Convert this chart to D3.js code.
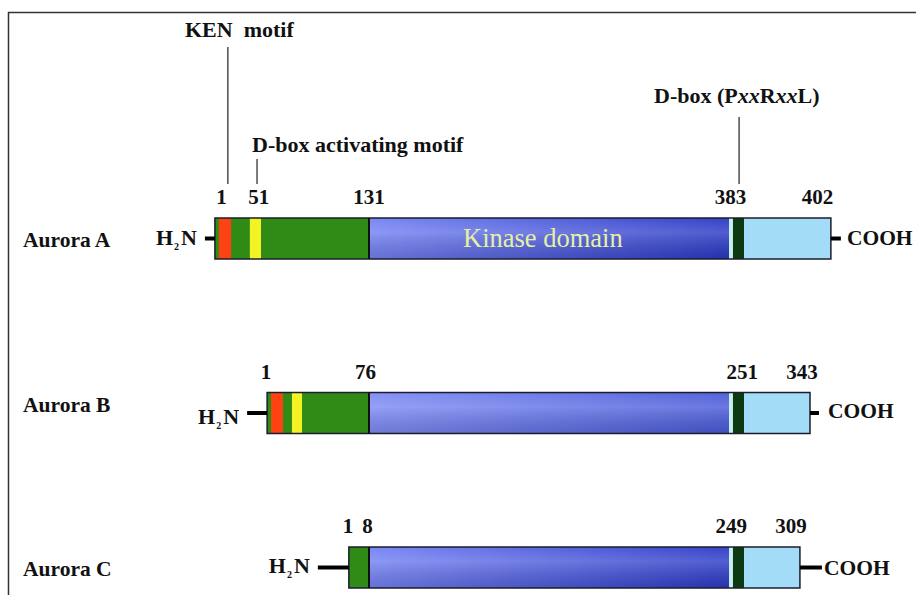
<!DOCTYPE html>
<html>
<head>
<meta charset="utf-8">
<script src="https://cdn.jsdelivr.net/npm/d3@7"></script>
<style>
  html, body { margin: 0; padding: 0; background: #fff; }
  svg { display: block; }
  text { font-family: "Liberation Serif", "Times New Roman", serif; }
</style>
</head>
<body>
<svg id="chart" width="916" height="595"></svg>
<script>
// ---------------- DATA ----------------
// proteins (rows)
const proteins = ["Aurora A", "Aurora B", "Aurora C"];
// schematic positions: kinase domain spans 0..100 units
const barStart = [-42.8, -28.3, -5.6];
const barEnd   = [128.3, 122.5, 119.7];
const kinaseDomain = [0, 100];
const dboxStrip = [100, 101.1];
const dboxMotif = [101.1, 104.2];
const kenMotif = [[-41.7, -38.3], [-27.2, -23.9], null];
const dboxActMotif = [[-33.1, -30.0], [-21.4, -18.6], null];
// residue number labels and their schematic positions
const residueLabels = [["1", "51", "131", "383", "402"], ["1", "76", "251", "343"], ["1", "8", "249", "309"]];
const residuePos = [[-41, -30.6, 0, 100.4, 124.6], [-28.6, -1, 103.7, 120.3], [-5.8, -0.4, 100.6, 117.2]];
// annotations (on Aurora A)
const annotations = [
  { label: "KEN  motif", at: -39.2 },
  { label: "D-box activating motif", at: -31.1 },
  { label: "D-box (PxxRxxL)", at: 102.8 }
];
const domainLabel = "Kinase domain";

// ---------------- LAYOUT / STYLE ----------------
const layout = {
  rowCenters: [238.5, 413, 567.5],
  barH: 41,
  rowLabelX: 23,
  rowLabelDy: [8.5, -1, 8.5],
  nTail: [10, 20, 31],
  cTail: [10, 9, 22],
  h2nDy: [6.5, 11, 5.5],
  coohDy: [6.5, 5, 7.5],
  coohGap: [6, 9, 2],
  numDy: -14,
  annot: [
    { textX: 185, textY: 37, lineTop: 47 },
    { textX: 252, textY: 152, lineTop: 159 },
    { textX: 654, textY: 103, lineTop: 117 }
  ]
};
const colors = {
  green: "#2f8a16", red: "#ff4214", yellow: "#f2f224",
  strip: "#c8eef0", dgreen: "#0b3a12", lblue: "#a2dcf6",
  outline: "#1c1c2c"
};

const svg = d3.select("#chart");
const x = d3.scaleLinear().domain(kinaseDomain).range([369, 729]);
const y = d3.scaleOrdinal().domain(proteins).range(layout.rowCenters);

// gradients for kinase domain
const defs = svg.append("defs");
const kinaseGrads = [["#7482f2", "#2a38c4"], ["#7e8cf4", "#4a5ad8"], ["#7482f2", "#2c3ac6"]];
kinaseGrads.forEach((c, i) => {
  const g = defs.append("linearGradient").attr("id", "kg" + i).attr("x1", 0).attr("x2", 1).attr("y1", 0).attr("y2", 0);
  g.append("stop").attr("offset", "0%").attr("stop-color", c[0]);
  g.append("stop").attr("offset", "100%").attr("stop-color", c[1]);
});
const vg = defs.append("linearGradient").attr("id", "vshade").attr("x1", 0).attr("x2", 0).attr("y1", 0).attr("y2", 1);
vg.append("stop").attr("offset", "0%").attr("stop-color", "#fff").attr("stop-opacity", 0.05);
vg.append("stop").attr("offset", "35%").attr("stop-color", "#fff").attr("stop-opacity", 0.18);
vg.append("stop").attr("offset", "100%").attr("stop-color", "#000").attr("stop-opacity", 0.12);

// frame
svg.append("path").attr("d", "M8.5,595 V12.5 H916").attr("fill", "none").attr("stroke", "#333").attr("stroke-width", 1.5);

proteins.forEach((p, i) => {
  const cy = y(p);
  const top = cy - layout.barH / 2;
  const g = svg.append("g");
  const seg = (a, b, fill) => g.append("rect")
    .attr("x", x(a)).attr("y", top).attr("width", x(b) - x(a)).attr("height", layout.barH).attr("fill", fill);

  // N-terminal region
  seg(barStart[i], kinaseDomain[0], colors.green);
  if (kenMotif[i]) seg(kenMotif[i][0], kenMotif[i][1], colors.red);
  if (dboxActMotif[i]) seg(dboxActMotif[i][0], dboxActMotif[i][1], colors.yellow);
  // kinase domain
  seg(kinaseDomain[0], kinaseDomain[1], `url(#kg${i})`);
  seg(kinaseDomain[0], kinaseDomain[1], "url(#vshade)");
  seg(dboxStrip[0], dboxStrip[1], colors.strip);
  seg(dboxMotif[0], dboxMotif[1], colors.dgreen);
  seg(dboxMotif[1], barEnd[i], colors.lblue);

  // outline
  g.append("rect").attr("x", x(barStart[i])).attr("y", top)
    .attr("width", x(barEnd[i]) - x(barStart[i])).attr("height", layout.barH)
    .attr("fill", "none").attr("stroke", colors.outline).attr("stroke-width", 1.5);
  g.append("line").attr("x1", x(0)).attr("x2", x(0)).attr("y1", top).attr("y2", top + layout.barH)
    .attr("stroke", "#111").attr("stroke-width", 2);

  // tails
  const xs = x(barStart[i]), xe = x(barEnd[i]);
  g.append("line").attr("x1", xs - layout.nTail[i]).attr("x2", xs).attr("y1", cy).attr("y2", cy)
    .attr("stroke", "#000").attr("stroke-width", 4);
  g.append("line").attr("x1", xe).attr("x2", xe + layout.cTail[i]).attr("y1", cy).attr("y2", cy)
    .attr("stroke", "#000").attr("stroke-width", 4);

  // H2N
  const h = g.append("text").attr("x", xs - layout.nTail[i] - 8).attr("y", cy + layout.h2nDy[i])
    .attr("text-anchor", "end").attr("font-weight", "bold").attr("font-size", 22).attr("fill", "#111");
  h.append("tspan").text("H");
  h.append("tspan").attr("font-size", 10).attr("dy", 5).attr("dx", 1).text("2");
  h.append("tspan").attr("dy", -5).attr("dx", 2).text("N");

  // COOH
  g.append("text").attr("x", xe + layout.cTail[i] + layout.coohGap[i]).attr("y", cy + layout.coohDy[i])
    .attr("font-weight", "bold").attr("font-size", 21.5).attr("fill", "#111").text("COOH");

  // row label
  g.append("text").attr("x", layout.rowLabelX).attr("y", cy + layout.rowLabelDy[i])
    .attr("font-weight", "bold").attr("font-size", 21.5).attr("fill", "#111").text(p);

  // residue numbers
  g.selectAll("text.num").data(residueLabels[i]).enter().append("text")
    .attr("class", "num")
    .attr("x", (d, j) => x(residuePos[i][j]))
    .attr("y", top + layout.numDy)
    .attr("text-anchor", "middle").attr("font-weight", "bold").attr("font-size", 21).attr("fill", "#111")
    .text(d => d);
});

// kinase domain label (on Aurora A)
svg.append("text").attr("x", x(48.3)).attr("y", y(proteins[0]) + 8)
  .attr("text-anchor", "middle").attr("font-size", 26.5).attr("fill", "#e6f0a4").text(domainLabel);

// annotations
const topA = y(proteins[0]) - layout.barH / 2;
annotations.forEach((a, k) => {
  const L = layout.annot[k];
  svg.append("line").attr("x1", x(a.at)).attr("x2", x(a.at)).attr("y1", L.lineTop).attr("y2", topA - 34)
    .attr("stroke", "#222").attr("stroke-width", 1.2);
  const t = svg.append("text").attr("x", L.textX).attr("y", L.textY)
    .attr("font-weight", "bold").attr("font-size", 22).attr("fill", "#111")
    .style("white-space", "pre");
  if (a.label.indexOf("PxxRxxL") >= 0) {
    t.append("tspan").text("D-box (P");
    t.append("tspan").attr("font-style", "italic").text("xx");
    t.append("tspan").text("R");
    t.append("tspan").attr("font-style", "italic").text("xx");
    t.append("tspan").text("L)");
  } else {
    t.text(a.label);
  }
});
</script>
</body>
</html>
